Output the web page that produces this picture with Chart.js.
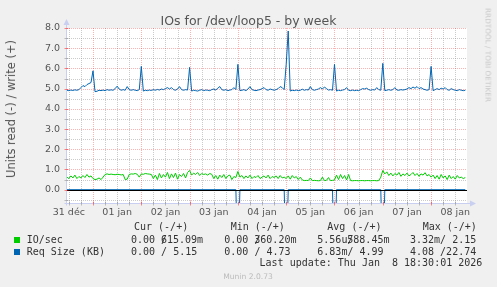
<!DOCTYPE html>
<html lang="fr">
<head>
<meta charset="UTF-8">
<title>IOs for /dev/loop5 - by week</title>
<script src="https://cdn.jsdelivr.net/npm/chart.js@4.4.1/dist/chart.umd.min.js"></script>
<style>
    html, body { margin: 0; padding: 0; background: #f0f0f0; }
    #wrap { position: relative; width: 497px; height: 287px; overflow: hidden; }
    #wrap canvas { position: absolute; left: 0; top: 0; }
    .txt { position: absolute; white-space: pre; font-family: "DejaVu Sans", sans-serif; color: #555; }
    .mono { position: absolute; white-space: pre; font-family: "DejaVu Sans Mono", monospace;
            font-size: 10px; line-height: 12px; color: #333; }
    .sq { position: absolute; width: 6px; height: 6px; }
</style>
</head>
<body>
<div id="wrap">
    <canvas id="chart" width="497" height="287"></canvas>

    <div class="txt" style="left:248.5px;top:19.5px;font-size:12.5px;transform:translate(-50%,-50%)">IOs for /dev/loop5 - by week</div>
    <div class="txt" style="left:11px;top:109px;font-size:11.5px;transform:translate(-50%,-50%) rotate(-90deg)">Units read (-) / write (+)</div>
    <div class="txt" style="left:488px;top:55px;font-size:7.3px;color:#c8c8c8;transform:translate(-50%,-50%) rotate(90deg)">RRDTOOL / TOBI OETIKER</div>

    <div class="mono" style="left:134px;top:221px">Cur (-/+)</div>
    <div class="mono" style="left:230.7px;top:221px">Min (-/+)</div>
    <div class="mono" style="left:327.3px;top:221px">Avg (-/+)</div>
    <div class="mono" style="left:422.7px;top:221px">Max (-/+)</div>

    <div class="sq" style="left:14px;top:237px;background:#00cc00"></div>
    <div class="mono" style="left:26.7px;top:234px">IO/sec</div>
    <div class="mono" style="left:131px;top:234px">0.00 /</div>
    <div class="mono" style="left:161px;top:234px">615.09m</div>
    <div class="mono" style="left:224.3px;top:234px">0.00 /</div>
    <div class="mono" style="left:254.3px;top:234px">360.20m</div>
    <div class="mono" style="left:317.3px;top:234px">5.56u/</div>
    <div class="mono" style="left:347.3px;top:234px">588.45m</div>
    <div class="mono" style="left:410px;top:234px">3.32m/ 2.15</div>

    <div class="sq" style="left:14px;top:249px;background:#0066b3"></div>
    <div class="mono" style="left:26.7px;top:246px">Req Size (KB)</div>
    <div class="mono" style="left:131px;top:246px">0.00 / 5.15</div>
    <div class="mono" style="left:224.3px;top:246px">0.00 / 4.73</div>
    <div class="mono" style="left:317.3px;top:246px">6.83m/ 4.99</div>
    <div class="mono" style="left:410px;top:246px">4.08 /22.74</div>

    <div class="mono" style="right:14.7px;top:257px">Last update: Thu Jan  8 18:30:01 2026</div>
    <div class="txt" style="left:248px;top:276px;font-size:7.6px;color:#bbb;transform:translate(-50%,-50%)">Munin 2.0.73</div>
</div>

<script>
    // hours counted from 31 déc 00:00, one sample per hour
    var sampleStartHour = 11;
    var dayLabels = ['31 déc', '01 jan', '02 jan', '03 jan', '04 jan', '05 jan', '06 jan', '07 jan', '08 jan'];

    // IO/sec write (+)
    var writeIo = [
        0.62, 0.55, 0.68, 0.58, 0.72, 0.55, 0.65, 0.58, 0.70, 0.60, 0.75, 0.62, 0.68,
        0.55, 0.50, 0.52, 0.58, 0.50, 0.62, 0.75, 0.78, 0.75, 0.77, 0.75, 0.74, 0.76, 0.75, 0.73, 0.75, 0.50, 0.52, 0.75, 0.78, 0.77, 0.80, 0.76, 0.62,
        0.78, 0.76, 0.80, 0.78, 0.77, 0.75, 0.55, 0.72, 0.50, 0.80, 0.58, 0.75, 0.62, 0.85, 0.55, 0.78, 0.60, 0.82, 0.52, 0.75, 0.65, 0.80, 0.58, 0.85,
        0.95, 0.72, 0.82, 0.75, 0.85, 0.70, 0.80, 0.75, 0.78, 0.72, 0.80, 0.76, 0.55, 0.70, 0.52, 0.72, 0.60, 0.75, 0.55, 0.68, 0.72, 0.50, 0.65, 0.60,
        0.90, 0.62, 0.70, 0.55, 0.68, 0.58, 0.72, 0.55, 0.65, 0.60, 0.70, 0.55, 0.62, 0.68, 0.58, 0.72, 0.55, 0.65, 0.60, 0.68, 0.55, 0.70, 0.58, 0.62,
        0.55, 0.68, 0.52, 0.70, 0.58, 0.65, 0.50, 0.62, 0.48, 0.45, 0.46, 0.45, 0.58, 0.45, 0.46, 0.45, 0.44, 0.45, 0.62, 0.45, 0.46, 0.60, 0.45, 0.46,
        0.48, 0.72, 0.50, 0.75, 0.55, 0.70, 0.48, 0.75, 0.45, 0.44, 0.45, 0.45, 0.44, 0.45, 0.45, 0.44, 0.45, 0.45, 0.44, 0.45, 0.45, 0.44, 0.45, 0.62,
        0.95, 0.78, 0.88, 0.70, 0.82, 0.68, 0.80, 0.72, 0.85, 0.66, 0.78, 0.70, 0.82, 0.68, 0.75, 0.85, 0.70, 0.80, 0.66, 0.78, 0.72, 0.84, 0.68, 0.75,
        0.62, 0.72, 0.55, 0.70, 0.52, 0.75, 0.58, 0.68, 0.50, 0.72, 0.55, 0.65, 0.52, 0.70, 0.58, 0.62, 0.55, 0.60
    ];

    // Req Size (KB) write (+)
    var writeReq = [
        4.92, 4.90, 4.93, 4.91, 4.94, 4.92, 4.95, 5.05, 5.15, 5.10, 5.20, 5.25, 5.30,
        5.88, 4.85, 4.87, 4.92, 4.90, 4.93, 4.90, 4.95, 4.92, 4.94, 4.92, 5.00, 5.12, 4.98, 4.92, 4.95, 4.92, 5.10, 4.95, 4.92, 4.95, 4.92, 4.90, 4.95,
        6.10, 4.88, 4.92, 4.90, 4.93, 4.91, 4.95, 4.92, 4.96, 4.93, 4.98, 4.95, 5.00, 5.05, 4.98, 5.05, 4.95, 4.92, 4.98, 5.10, 4.95, 4.92, 4.95, 4.93,
        6.05, 4.88, 4.92, 4.90, 4.88, 4.92, 4.95, 4.90, 4.93, 4.92, 4.90, 4.95, 4.98, 4.93, 5.02, 5.10, 4.95, 4.92, 4.95, 4.90, 4.93, 4.95, 5.05, 4.95,
        6.20, 4.90, 4.92, 4.95, 4.90, 4.98, 5.10, 4.95, 4.92, 4.90, 4.93, 4.95, 5.00, 5.05, 4.95, 4.92, 4.98, 4.95, 4.92, 4.95, 5.00, 5.10, 5.05, 4.95,
        6.20, 7.85, 4.88, 4.92, 4.90, 4.93, 4.90, 4.92, 4.97, 4.92, 4.95, 4.93, 5.10, 4.95, 4.92, 4.95, 4.98, 5.05, 4.98, 5.08, 5.00, 4.93, 4.95, 4.92,
        6.20, 4.88, 4.92, 4.90, 4.93, 4.95, 5.05, 4.92, 4.90, 4.93, 4.90, 4.92, 4.90, 4.95, 5.00, 4.98, 5.02, 4.95, 4.92, 4.95, 4.93, 5.05, 4.95, 4.92,
        6.25, 4.90, 4.92, 4.95, 4.92, 4.95, 5.05, 4.93, 4.92, 4.95, 4.93, 4.95, 4.98, 5.05, 5.00, 5.08, 5.02, 5.10, 5.00, 5.05, 4.98, 4.95, 4.92, 4.95,
        6.10, 4.90, 4.95, 5.00, 4.95, 5.02, 4.98, 5.05, 4.95, 4.92, 5.00, 4.95, 4.92, 4.90, 4.95, 4.92, 4.90, 4.92
    ];

    // Req Size (KB) read (-), zero except the midnight spikes
    var readReqHours  = [11, 95, 96, 97, 119, 120, 121, 143, 144, 145, 167, 168, 169, 209];
    var readReqValues = [0, 0, 4.08, 0, 0, 4.08, 0, 0, 4.08, 0, 0, 4.08, 0, 0];

    var xMin = 11.08, xMax = 209.84;
    var yMin = -0.66, yMax = 8.0;

    var majorGrid = 'rgba(255,0,0,0.3)';
    var minorGrid = 'rgba(140,140,140,0.45)';
    var axisColor = '#c8cff0';

    function hourly(values) {
        return values.map(function (v, i) { return {x: sampleStartHour + i, y: v}; });
    }

    var munin = {
        id: 'munin',
        beforeDatasetsDraw: function (chart) {
            var a = chart.chartArea, ctx = chart.ctx;
            var xs = chart.scales.x, ys = chart.scales.y;
            ctx.save();
            ctx.fillStyle = '#ffffff';
            ctx.fillRect(a.left, a.top, a.right - a.left, a.bottom - a.top);

            // dotted grid, minor first then major (one px on, one px off)
            [false, true].forEach(function (major) {
                ctx.fillStyle = major ? majorGrid : minorGrid;
                xs.ticks.forEach(function (t) {
                    if ((t.value % 24 === 0) !== major) return;
                    var px = Math.round(xs.getPixelForValue(t.value));
                    for (var y = Math.round(a.top); y < a.bottom; y += 2) ctx.fillRect(px, y, 1, 1);
                });
                ys.ticks.forEach(function (t) {
                    if ((t.value % 1 === 0) !== major) return;
                    var py = Math.round(ys.getPixelForValue(t.value));
                    for (var x = Math.round(a.left); x < a.right; x += 2) ctx.fillRect(x, py, 1, 1);
                });
            });
            ctx.restore();
        },
        afterDatasetsDraw: function (chart) {
            var a = chart.chartArea, ctx = chart.ctx;
            var xs = chart.scales.x, ys = chart.scales.y;
            ctx.save();
            // zero line
            var y0 = Math.round(ys.getPixelForValue(0)) + 0.5;
            ctx.strokeStyle = '#000';
            ctx.lineWidth = 1;
            ctx.beginPath();
            ctx.moveTo(a.left, y0);
            ctx.lineTo(a.right, y0);
            ctx.stroke();

            // axes with arrows
            var ax = a.left - 0.5, ay = a.bottom + 0.5;
            ctx.strokeStyle = axisColor;
            ctx.beginPath();
            ctx.moveTo(ax, ay + 2);
            ctx.lineTo(ax, a.top - 5);
            ctx.moveTo(ax - 2, ay);
            ctx.lineTo(a.right + 5, ay);
            ctx.stroke();
            ctx.fillStyle = axisColor;
            ctx.beginPath();
            ctx.moveTo(ax - 3, a.top - 3);
            ctx.lineTo(ax, a.top - 9);
            ctx.lineTo(ax + 3, a.top - 3);
            ctx.fill();
            ctx.beginPath();
            ctx.moveTo(a.right + 3, ay - 3);
            ctx.lineTo(a.right + 9, ay);
            ctx.lineTo(a.right + 3, ay + 3);
            ctx.fill();

            // small tick marks on the axes
            xs.ticks.forEach(function (t) {
                var px = Math.round(xs.getPixelForValue(t.value)) + 0.5;
                ctx.strokeStyle = t.value % 24 === 0 ? 'rgba(255,0,0,0.45)' : 'rgba(140,140,140,0.55)';
                ctx.beginPath();
                ctx.moveTo(px, ay - 2);
                ctx.lineTo(px, ay + 2);
                ctx.stroke();
            });
            ys.ticks.forEach(function (t) {
                var py = Math.round(ys.getPixelForValue(t.value)) + 0.5;
                ctx.strokeStyle = t.value % 1 === 0 ? 'rgba(255,0,0,0.45)' : 'rgba(140,140,140,0.55)';
                ctx.beginPath();
                ctx.moveTo(ax - 2, py);
                ctx.lineTo(ax + 2, py);
                ctx.stroke();
            });
            ctx.restore();
        }
    };

    new Chart(document.getElementById('chart'), {
        type: 'line',
        data: {
            datasets: [{
                label: 'Req Size (KB) write',
                data: hourly(writeReq),
                borderColor: '#0066b3',
                borderWidth: 1,
                order: 1
            }, {
                label: 'Req Size (KB) read',
                data: readReqHours.map(function (h, i) { return {x: h, y: -readReqValues[i]}; }),
                borderColor: '#0066b3',
                borderWidth: 1,
                order: 2
            }, {
                label: 'IO/sec write',
                data: hourly(writeIo),
                borderColor: '#00cc00',
                borderWidth: 1,
                order: 3
            }]
        },
        options: {
            responsive: false,
            animation: false,
            devicePixelRatio: 1,
            layout: {padding: {left: 0, top: 28, right: 30, bottom: 0}},
            elements: {
                point: {radius: 0},
                line: {tension: 0}
            },
            plugins: {
                legend: {display: false},
                title: {display: false},
                tooltip: {enabled: false}
            },
            scales: {
                x: {
                    type: 'linear',
                    min: xMin,
                    max: xMax,
                    afterFit: function (s) { s.height = 287 - 203; },
                    afterBuildTicks: function (s) {
                        var t = [];
                        for (var h = 12; h <= xMax; h += 6) t.push({value: h});
                        s.ticks = t;
                    },
                    grid: {display: false, drawTicks: false},
                    border: {display: false},
                    ticks: {
                        autoSkip: false,
                        maxRotation: 0,
                        padding: 4,
                        color: '#555',
                        font: {family: 'DejaVu Sans', size: 9.5},
                        callback: function (v) {
                            return v % 24 === 12 ? dayLabels[(v - 12) / 24] : '';
                        }
                    }
                },
                y: {
                    min: yMin,
                    max: yMax,
                    afterFit: function (s) { s.width = 67; },
                    afterBuildTicks: function (s) {
                        var t = [];
                        for (var v = -0.5; v <= yMax; v += 0.5) t.push({value: v});
                        s.ticks = t;
                    },
                    grid: {display: false, drawTicks: false},
                    border: {display: false},
                    ticks: {
                        autoSkip: false,
                        padding: 7,
                        color: '#555',
                        font: {family: 'DejaVu Sans', size: 9.5},
                        callback: function (v) {
                            return v % 1 === 0 ? v.toFixed(1) : '';
                        }
                    }
                }
            }
        },
        plugins: [munin]
    });
</script>
</body>
</html>
